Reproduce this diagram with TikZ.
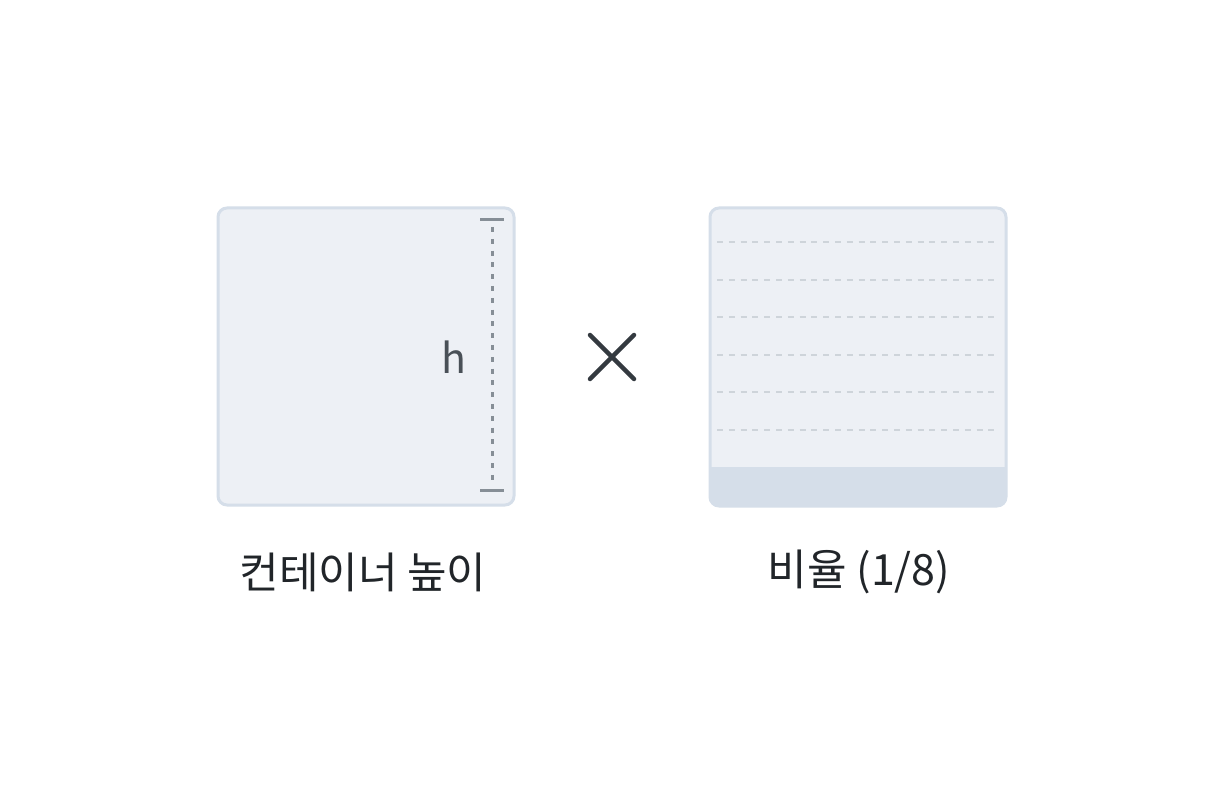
\documentclass[tikz,border=0pt]{standalone}
\usepackage{fontspec}
\setmainfont{Noto Sans CJK KR}
\begin{document}
\begin{tikzpicture}[x=1pt,y=-1pt,
  boxstyle/.style={draw=boxline,fill=boxfill,line width=3pt,rounded corners=9pt},
  dimline/.style={draw=dimgray,line width=3pt},
  gridline/.style={draw=gridgray,line width=2.8pt,dash pattern=on 6pt off 5.8pt},
  lbl/.style={font=\fontsize{43}{50}\selectfont,text=textdark,inner sep=0pt}]
\definecolor{boxline}{HTML}{D5DEE9}
\definecolor{boxfill}{HTML}{EDF0F5}
\definecolor{dimgray}{HTML}{868E96}
\definecolor{gridgray}{HTML}{CED4DA}
\definecolor{textdark}{HTML}{212529}
\definecolor{hgray}{HTML}{495057}
\definecolor{crossc}{HTML}{343A40}
\useasboundingbox (0,0) rectangle (1224,810);
\fill[white] (0,0) rectangle (1224,810);
% box 1
\draw[boxstyle] (218,208) rectangle (514,505);
\draw[dimline] (480,220) -- (504,220);
\draw[dimline] (480,490) -- (504,490);
\draw[dimline,dash pattern=on 5pt off 6.8pt] (492,227) -- (492,486);
\node[font=\fontsize{41}{48}\selectfont,text=hgray,inner sep=0pt] (h) at (454,357) {h};
% cross
\coordinate (c1) at (590,335);
\coordinate (c2) at (634,379);
\coordinate (c3) at (634,335);
\coordinate (c4) at (590,379);
\draw[crossc,line width=4.5pt,line cap=round] (c1) -- (c2) (c3) -- (c4);
% box 2
\begin{scope}
\clip[rounded corners=9pt] (710,208) rectangle (1006,506);
\fill[boxfill] (710,208) rectangle (1006,506);
\fill[boxline] (710,467) rectangle (1006,506);
\end{scope}
\draw[boxline,line width=3pt,rounded corners=9pt] (710,208) rectangle (1006,506);
\foreach \yy in {242,280,317,355,392,430}{
  \draw[gridline] (717,\yy) -- (1000,\yy);
}
% labels
\node[lbl] (l1) at (363,572) {컨테이너 높이};
\node[lbl] (l2) at (859,572) {비율 (1/8)};
\end{tikzpicture}
\end{document}
